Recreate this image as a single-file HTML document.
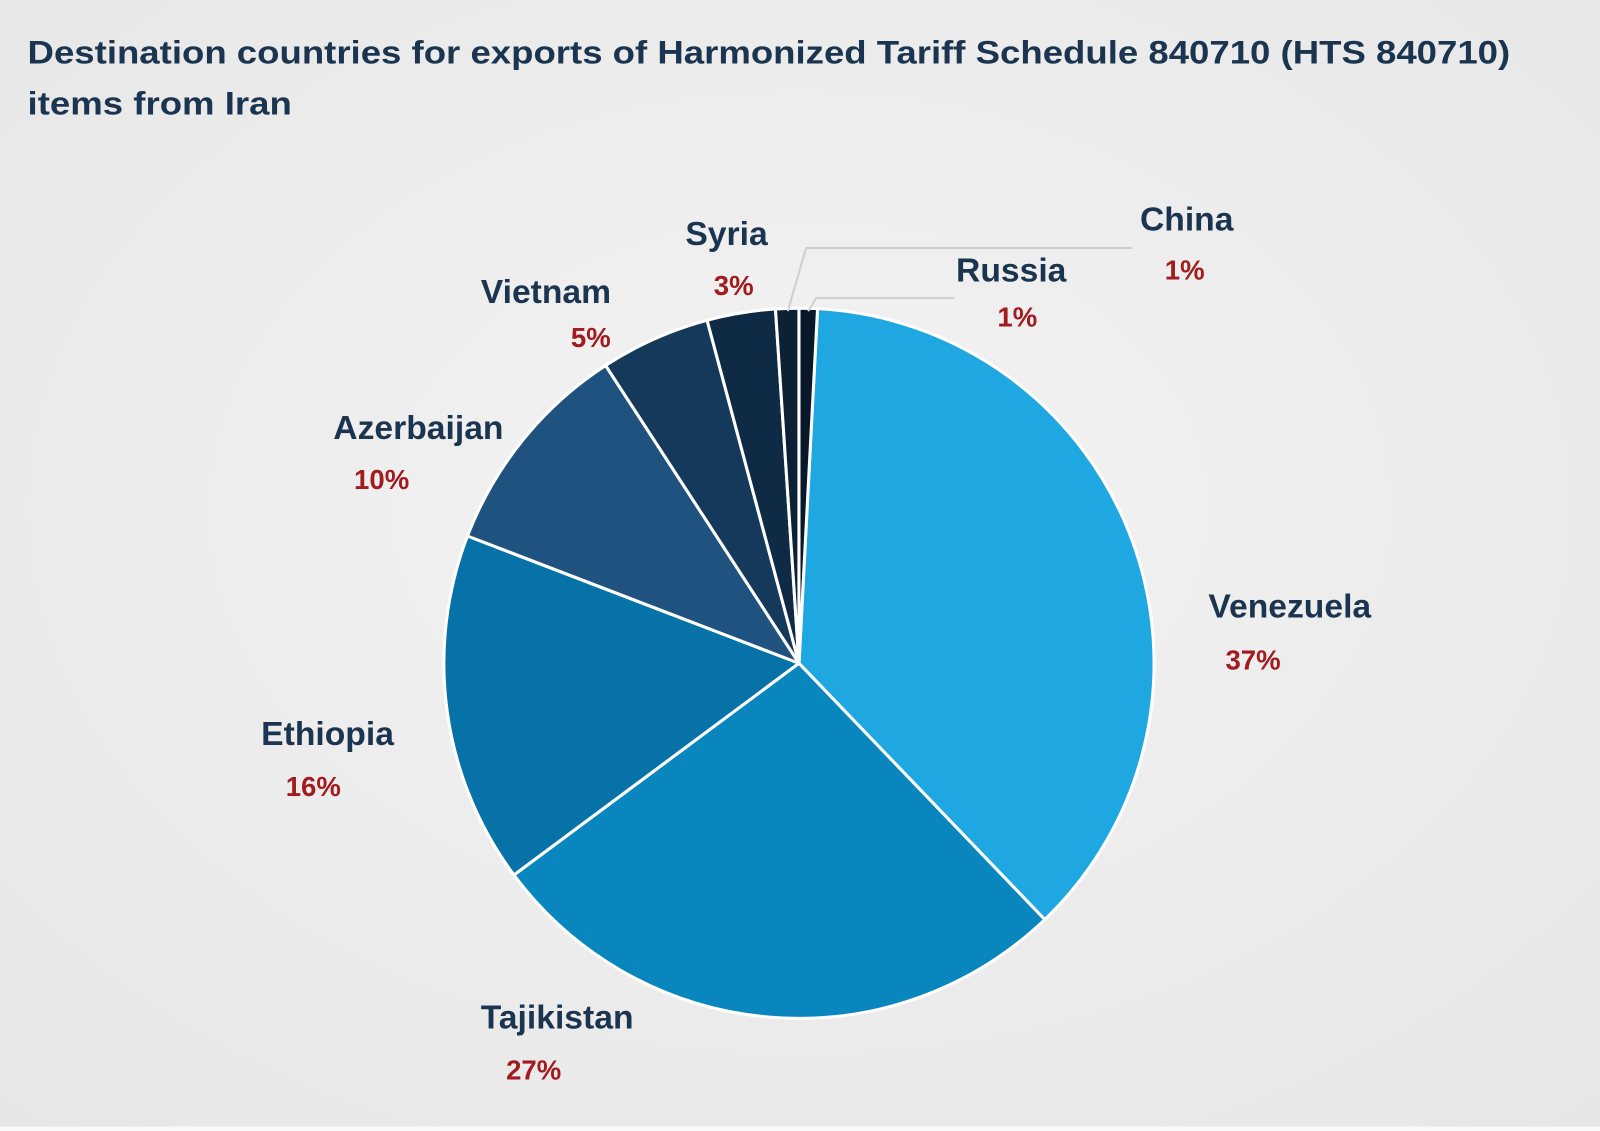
<!DOCTYPE html>
<html><head><meta charset="utf-8"><style>
html,body{margin:0;padding:0;background:#ededed;}
svg{display:block}
text{font-family:"Liberation Sans",sans-serif;font-weight:bold}
</style></head><body>
<svg width="1600" height="1131" viewBox="0 0 1568 1108.4" xmlns="http://www.w3.org/2000/svg">
<defs>
<radialGradient id="bg" cx="50%" cy="45%" r="75%">
<stop offset="0" stop-color="#f3f3f3"/><stop offset="1" stop-color="#e6e6e6"/>
</radialGradient>
</defs>
<rect width="1568" height="1108.4" fill="url(#bg)"/>
<rect x="0" y="1104" width="1568" height="4.4" fill="#fafafa"/>
<text x="27" y="62" font-size="32" fill="#1b3550" textLength="1453" lengthAdjust="spacingAndGlyphs">Destination countries for exports of Harmonized Tariff Schedule 840710 (HTS 840710)</text>
<text x="27" y="112" font-size="32" fill="#1b3550" textLength="259" lengthAdjust="spacingAndGlyphs">items from Iran</text>
<g id="pie" stroke="#ffffff" stroke-width="3" stroke-linejoin="round"></g>
<polyline points="772,305 790,243 1110,243" fill="none" stroke="#cfcfcf" stroke-width="2"/>
<polyline points="792,305 800,292 935,292" fill="none" stroke="#cfcfcf" stroke-width="2"/>
<g font-size="33" fill="#1b3550" text-anchor="middle">
<text x="712" y="240">Syria</text>
<text x="535" y="297">Vietnam</text>
<text x="410" y="430">Azerbaijan</text>
<text x="321" y="730">Ethiopia</text>
<text x="546" y="1008">Tajikistan</text>
<text x="1264" y="605">Venezuela</text>
<text x="991" y="276">Russia</text>
<text x="1163" y="226">China</text>
</g>
<g font-size="27" fill="#a11b1f" text-anchor="middle">
<text x="719" y="289">3%</text>
<text x="579" y="340">5%</text>
<text x="374" y="479">10%</text>
<text x="307" y="780">16%</text>
<text x="523" y="1058">27%</text>
<text x="1228" y="656">37%</text>
<text x="997" y="320">1%</text>
<text x="1161" y="274">1%</text>
</g>
</svg>
<script>
(function(){
var cx=783,cy=650,r=348;
var s=[[3,136.2,"#1ea7e1"],[136.2,233.4,"#0a86bf"],[233.4,291,"#0672a8"],[291,327,"#1f527f"],[327,345,"#15395a"],[345,356.2,"#0f2a45"],[356.2,360,"#0c2136"],[0,3,"#091828"]];
var g=document.getElementById("pie"),ns="http://www.w3.org/2000/svg";
function p(a){a=a*Math.PI/180;return [cx+r*Math.sin(a),cy-r*Math.cos(a)];}
s.forEach(function(d){
var a=p(d[0]),b=p(d[1]),l=(d[1]-d[0])>180?1:0;
var e=document.createElementNS(ns,"path");
e.setAttribute("d","M"+cx+","+cy+"L"+a[0]+","+a[1]+"A"+r+","+r+" 0 "+l+" 1 "+b[0]+","+b[1]+"Z");
e.setAttribute("fill",d[2]);g.appendChild(e);});
})();
</script>
</body></html>
